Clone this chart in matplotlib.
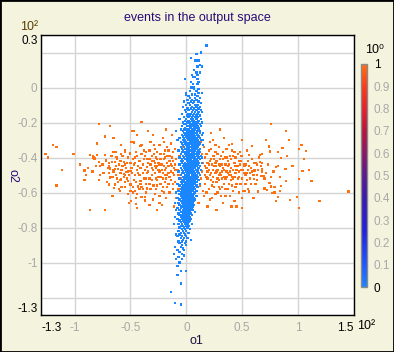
import numpy as np
import matplotlib
matplotlib.use("Agg")
import matplotlib.pyplot as plt
from matplotlib.colors import LinearSegmentedColormap, Normalize
from matplotlib.cm import ScalarMappable
from matplotlib.patches import Rectangle

plt.rcParams["font.family"] = ["Liberation Sans", "DejaVu Sans"]

BG = "#f4f3de"
GREY = "#a8a8a8"
NAVY = "#2a0a7a"

# blue cloud, read row by row: (o2, [o1 values])
blue_rows = [
    (0.24, [0.18]), (0.20, [0.13]), (0.19, [0.09]), (0.17, [0.04]),
    (0.155, [0.08, 0.10, 0.11]), (0.13, [0.12]), (0.12, [0.10, 0.14]),
    (0.10, [0.07]), (0.085, [0.09, 0.12]), (0.07, [0.05, 0.10]),
    (0.06, [0.06, 0.08]), (0.05, [-0.01, 0.10]), (0.03, [0.04, 0.11]),
    (0.02, [0.06, 0.10]), (0.0, [0.04, 0.06, 0.07]), (-0.01, [0.07, 0.11]),
    (-0.02, [0.03, 0.09]), (-0.03, [0.0, 0.11, 0.14]), (-0.04, [0.0, 0.05, 0.08]),
    (-0.05, [0.02, 0.10]), (-0.06, [0.03, 0.08, 0.12]), (-0.07, [0.01, 0.05, 0.09]),
    (-0.08, [-0.02, 0.04, 0.07, 0.11]), (-0.09, [0.02, 0.06, 0.13]),
    (-0.10, [0.0, 0.03, 0.08, 0.10]), (-0.11, [-0.03, 0.05, 0.09, 0.12]),
    (-0.12, [0.01, 0.04, 0.07, 0.11]), (-0.13, [-0.01, 0.02, 0.06, 0.09, 0.13]),
    (-0.14, [0.0, 0.05, 0.08, 0.11, 0.14]), (-0.15, [-0.04, 0.02, 0.04, 0.07, 0.10]),
    (-0.16, [0.01, 0.03, 0.06, 0.09, 0.12]), (-0.17, [-0.02, 0.02, 0.05, 0.08, 0.10]),
    (-0.18, [-0.06, 0.0, 0.04, 0.06, 0.09, 0.13]), (-0.19, [-0.01, 0.02, 0.05, 0.07, 0.11]),
    (-0.20, [-0.03, 0.01, 0.03, 0.06, 0.08, 0.10, 0.14]),
    (-0.21, [-0.02, 0.00, 0.03, 0.05, 0.07, 0.09, 0.12]),
    (-0.22, [-0.04, 0.01, 0.02, 0.04, 0.06, 0.08, 0.10, 0.13]),
    (-0.23, [-0.01, 0.03, 0.04, 0.07, 0.09, 0.11]),
    (-0.24, [-0.05, -0.02, 0.00, 0.02, 0.05, 0.06, 0.08, 0.11]),
    (-0.25, [-0.09, -0.03, 0.01, 0.03, 0.05, 0.07, 0.10, 0.12]),
    (-0.26, [-0.02, 0.00, 0.02, 0.04, 0.06, 0.08, 0.09, 0.12, 0.15]),
    (-0.27, [-0.04, -0.01, 0.01, 0.03, 0.05, 0.07, 0.10, 0.14]),
    (-0.28, [-0.03, 0.00, 0.02, 0.04, 0.06, 0.08, 0.11]),
    (-0.29, [-0.06, -0.02, 0.01, 0.03, 0.05, 0.07, 0.09, 0.12]),
    (-0.30, [-0.08, -0.03, -0.01, 0.02, 0.04, 0.06, 0.08, 0.10, 0.13, 0.15]),
    (-0.31, [-0.05, -0.02, 0.00, 0.03, 0.05, 0.07, 0.09, 0.11]),
    (-0.32, [-0.04, -0.01, 0.01, 0.02, 0.04, 0.06, 0.08, 0.10, 0.12]),
    (-0.33, [-0.03, 0.00, 0.02, 0.05, 0.07, 0.09, 0.11, 0.15]),
    (-0.34, [-0.05, -0.02, 0.01, 0.03, 0.04, 0.06, 0.08, 0.10]),
    (-0.35, [-0.04, -0.01, 0.00, 0.02, 0.05, 0.07, 0.09, 0.12]),
    (-0.36, [-0.07, -0.03, 0.01, 0.03, 0.04, 0.06, 0.08, 0.11]),
    (-0.37, [-0.04, -0.02, 0.00, 0.02, 0.05, 0.07, 0.10, 0.12]),
    (-0.38, [-0.05, -0.01, 0.01, 0.03, 0.04, 0.06, 0.08, 0.09, 0.11]),
    (-0.39, [-0.03, 0.00, 0.02, 0.04, 0.06, 0.07, 0.10, 0.13]),
    (-0.40, [-0.06, -0.02, 0.01, 0.03, 0.05, 0.06, 0.08, 0.11, 0.14]),
    (-0.41, [-0.04, -0.01, 0.00, 0.02, 0.04, 0.07, 0.09, 0.12]),
    (-0.42, [-0.05, -0.03, 0.01, 0.03, 0.05, 0.06, 0.08, 0.10]),
    (-0.43, [-0.04, -0.01, 0.02, 0.03, 0.05, 0.07, 0.09, 0.11, 0.14]),
    (-0.44, [-0.06, -0.02, 0.00, 0.02, 0.04, 0.06, 0.08, 0.10]),
    (-0.45, [-0.03, -0.01, 0.01, 0.03, 0.05, 0.07, 0.09, 0.12]),
    (-0.46, [-0.05, -0.02, 0.00, 0.02, 0.04, 0.06, 0.08, 0.11]),
    (-0.47, [-0.04, -0.01, 0.01, 0.03, 0.05, 0.06, 0.09, 0.10, 0.13]),
    (-0.48, [-0.07, -0.03, 0.00, 0.02, 0.04, 0.05, 0.07, 0.10]),
    (-0.49, [-0.04, -0.02, 0.01, 0.03, 0.04, 0.06, 0.08, 0.11]),
    (-0.50, [-0.05, -0.01, 0.00, 0.02, 0.05, 0.07, 0.09, 0.12]),
    (-0.51, [-0.03, -0.01, 0.01, 0.03, 0.04, 0.06, 0.08, 0.10]),
    (-0.52, [-0.06, -0.02, 0.00, 0.02, 0.03, 0.05, 0.07, 0.09]),
    (-0.53, [-0.04, -0.02, 0.01, 0.02, 0.04, 0.06, 0.08, 0.11]),
    (-0.54, [-0.05, -0.03, -0.01, 0.01, 0.03, 0.05, 0.07, 0.09]),
    (-0.55, [-0.08, -0.04, -0.01, 0.00, 0.02, 0.04, 0.06, 0.08, 0.12]),
    (-0.56, [-0.06, -0.03, -0.01, 0.01, 0.03, 0.05, 0.06, 0.09]),
    (-0.57, [-0.04, -0.02, 0.00, 0.02, 0.04, 0.05, 0.07, 0.10]),
    (-0.58, [-0.05, -0.03, -0.01, 0.01, 0.03, 0.04, 0.06, 0.08]),
    (-0.59, [-0.07, -0.04, -0.02, 0.00, 0.02, 0.04, 0.06, 0.09]),
    (-0.60, [-0.09, -0.05, -0.03, -0.01, 0.01, 0.02, 0.04, 0.07, 0.08]),
    (-0.61, [-0.06, -0.04, -0.02, 0.00, 0.02, 0.03, 0.05, 0.07]),
    (-0.62, [-0.05, -0.03, -0.01, 0.01, 0.03, 0.05, 0.06, 0.09]),
    (-0.63, [-0.08, -0.04, -0.02, 0.00, 0.01, 0.03, 0.05, 0.07]),
    (-0.64, [-0.06, -0.03, -0.01, 0.01, 0.02, 0.04, 0.06, 0.08]),
    (-0.65, [-0.05, -0.03, -0.02, 0.00, 0.02, 0.03, 0.05, 0.07]),
    (-0.66, [-0.10, -0.07, -0.04, -0.02, 0.00, 0.01, 0.03, 0.04, 0.06]),
    (-0.67, [-0.06, -0.03, -0.01, 0.01, 0.03, 0.05, 0.07]),
    (-0.68, [-0.05, -0.04, -0.02, 0.00, 0.02, 0.04, 0.06]),
    (-0.69, [-0.08, -0.05, -0.02, -0.01, 0.01, 0.03, 0.05]),
    (-0.70, [-0.09, -0.06, -0.03, -0.01, 0.00, 0.02, 0.04, 0.06]),
    (-0.71, [-0.05, -0.04, -0.02, 0.00, 0.01, 0.03, 0.08]),
    (-0.72, [-0.07, -0.03, -0.01, 0.01, 0.02, 0.04]),
    (-0.73, [-0.06, -0.04, -0.02, 0.00, 0.02, 0.05]),
    (-0.74, [-0.10, -0.05, -0.03, -0.01, 0.01, 0.03]),
    (-0.75, [-0.08, -0.04, -0.02, 0.00, 0.02, 0.04]),
    (-0.76, [-0.06, -0.03, -0.01, 0.01, 0.03]),
    (-0.77, [-0.05, -0.02, 0.00, 0.02]),
    (-0.78, [-0.11, -0.07, -0.04, -0.01, 0.01, 0.05]),
    (-0.79, [-0.05, -0.03, 0.00, 0.02]),
    (-0.80, [-0.06, -0.02, 0.01]), (-0.81, [-0.04, -0.01, 0.03]),
    (-0.82, [-0.07, -0.03, 0.00]), (-0.83, [-0.05, -0.02, 0.02]),
    (-0.84, [-0.09, -0.06, -0.01]), (-0.85, [-0.08, -0.04, 0.00]),
    (-0.86, [-0.05, -0.02, 0.01]), (-0.87, [-0.03, 0.04]),
    (-0.88, [-0.07, -0.04, 0.00]), (-0.89, [-0.06, -0.01]),
    (-0.90, [-0.04, 0.00]), (-0.91, [-0.10, -0.05]), (-0.92, [-0.03]),
    (-0.93, [-0.08, -0.02]), (-0.94, [-0.06]), (-0.95, [-0.11, -0.04]),
    (-0.96, [-0.02]), (-0.97, [-0.07]), (-0.98, [-0.09, -0.04]),
    (-1.00, [-0.06]), (-1.02, [-0.08]), (-1.05, [-0.05, 0.00]),
    (-1.07, [-0.08]), (-1.12, [-0.05]), (-1.17, [-0.14]),
    (-1.23, [-0.10]), (-1.24, [-0.05]),
]

# orange cloud, (o1, o2) pairs
orange_pts = [
    (-1.26, -0.38), (-1.24, -0.40), (-1.19, -0.33), (-1.16, -0.34), (-1.16, -0.56),
    (-1.11, -0.47), (-1.01, -0.38),
    (-0.91, -0.475), (-0.90, -0.50), (-0.91, -0.53), (-0.88, -0.46), (-0.86, -0.384),
    (-0.86, -0.70), (-0.83, -0.40), (-0.835, -0.395), (-0.82, -0.405), (-0.80, -0.32),
    (-0.80, -0.384), (-0.78, -0.21), (-0.78, -0.424), (-0.77, -0.447), (-0.78, -0.53),
    (-0.74, -0.49), (-0.73, -0.28), (-0.73, -0.384), (-0.72, -0.418), (-0.73, -0.70),
    (-0.68, -0.22), (-0.69, -0.487), (-0.69, -0.555), (-0.647, -0.573), (-0.66, -0.62),
    (-0.65, -0.287), (-0.69, -0.447), (-0.68, -0.515),
    (-0.65, -0.369), (-0.63, -0.369), (-0.584, -0.329), (-0.548, -0.37), (-0.548, -0.36),
    (-0.587, -0.38), (-0.626, -0.397), (-0.667, -0.427), (-0.64, -0.427), (-0.59, -0.42),
    (-0.555, -0.427), (-0.55, -0.44), (-0.506, -0.378), (-0.49, -0.31), (-0.486, -0.247),
    (-0.47, -0.25), (-0.44, -0.27), (-0.40, -0.197), (-0.34, -0.247), (-0.47, -0.315),
    (-0.45, -0.367), (-0.41, -0.335), (-0.40, -0.33), (-0.44, -0.39), (-0.40, -0.38),
    (-0.38, -0.36), (-0.37, -0.39), (-0.36, -0.37), (-0.64, -0.466), (-0.61, -0.466),
    (-0.655, -0.475), (-0.68, -0.462), (-0.63, -0.50), (-0.59, -0.49), (-0.584, -0.523),
    (-0.56, -0.494), (-0.537, -0.483), (-0.52, -0.48), (-0.50, -0.477), (-0.485, -0.49),
    (-0.53, -0.52), (-0.52, -0.534), (-0.55, -0.54), (-0.61, -0.54), (-0.64, -0.555),
    (-0.58, -0.567), (-0.55, -0.567), (-0.50, -0.555), (-0.596, -0.591), (-0.50, -0.59),
    (-0.48, -0.60), (-0.46, -0.59), (-0.44, -0.61), (-0.45, -0.63), (-0.495, -0.65),
    (-0.51, -0.66), (-0.45, -0.667), (-0.44, -0.69), (-0.40, -0.625), (-0.37, -0.624),
    (-0.37, -0.645), (-0.33, -0.67), (-0.35, -0.578), (-0.41, -0.534), (-0.41, -0.55),
    (-0.42, -0.50), (-0.39, -0.49), (-0.37, -0.47), (-0.35, -0.455), (-0.34, -0.48),
    (-0.43, -0.45), (-0.46, -0.43), (-0.48, -0.41), (-0.52, -0.40), (-0.57, -0.45),
    (-0.60, -0.44), (-0.62, -0.52), (-0.66, -0.51), (-0.69, -0.43), (-0.47, -0.53),
    (-0.43, -0.565), (-0.39, -0.58), (-0.36, -0.52), (-0.33, -0.55),
    (-0.62, -0.41), (-0.57, -0.39), (-0.53, -0.43), (-0.49, -0.46), (-0.46, -0.50),
    (-0.44, -0.47), (-0.42, -0.42), (-0.39, -0.44), (-0.38, -0.52), (-0.36, -0.55),
    (-0.40, -0.57), (-0.45, -0.54), (-0.48, -0.57), (-0.52, -0.61), (-0.56, -0.51),
    (-0.60, -0.58), (-0.63, -0.45), (-0.67, -0.39), (-0.71, -0.54), (-0.75, -0.44),
    (-0.84, -0.48), (-0.95, -0.44),
    (-0.58, -0.47), (-0.54, -0.46), (-0.51, -0.50), (-0.47, -0.44), (-0.43, -0.49),
    (-0.41, -0.46), (-0.38, -0.41), (-0.35, -0.49), (-0.33, -0.52), (-0.46, -0.40),
    (-0.50, -0.43), (-0.55, -0.50), (-0.59, -0.53), (-0.65, -0.48), (-0.70, -0.46),
    (-0.77, -0.50), (-0.81, -0.45), (-0.36, -0.60), (-0.42, -0.58),
    (-0.32, -0.31), (-0.30, -0.27), (-0.28, -0.35), (-0.31, -0.39), (-0.29, -0.42),
    (-0.27, -0.40), (-0.26, -0.45), (-0.30, -0.47), (-0.32, -0.44), (-0.28, -0.49),
    (-0.25, -0.51), (-0.31, -0.53), (-0.29, -0.56), (-0.27, -0.58), (-0.24, -0.62),
    (-0.30, -0.64), (-0.26, -0.70), (-0.22, -0.67), (-0.23, -0.55), (-0.21, -0.52),
    (-0.24, -0.48), (-0.22, -0.44), (-0.20, -0.41), (-0.23, -0.38), (-0.24, -0.33),
    (-0.21, -0.29), (-0.18, -0.24), (-0.19, -0.36), (-0.17, -0.39), (-0.18, -0.46),
    (-0.16, -0.49), (-0.19, -0.54), (-0.17, -0.57), (-0.15, -0.60), (-0.14, -0.53),
    (-0.13, -0.45), (-0.15, -0.42), (-0.12, -0.37), (-0.14, -0.32), (-0.11, -0.50),
    (-0.12, -0.58), (-0.10, -0.44), (-0.09, -0.63), (-0.11, -0.68), (-0.13, -0.27),
    (-0.20, -0.60), (-0.26, -0.53), (-0.28, -0.61), (-0.33, -0.41), (-0.25, -0.43),
    (-0.22, -0.47), (-0.19, -0.50), (-0.16, -0.45), (-0.14, -0.48), (-0.29, -0.38),
    (-0.31, -0.50), (-0.27, -0.46), (-0.23, -0.41), (-0.17, -0.34), (-0.21, -0.57),
    (-0.24, -0.66), (-0.18, -0.63), (-0.32, -0.58), (-0.35, -0.41), (-0.20, -0.31),
    (-0.15, -0.39), (-0.12, -0.42), (-0.10, -0.54), (-0.16, -0.55), (-0.26, -0.37),
    (-0.34, -0.43), (-0.31, -0.46), (-0.28, -0.43), (-0.25, -0.47), (-0.23, -0.51),
    (-0.20, -0.45), (-0.17, -0.43), (-0.15, -0.51), (-0.13, -0.40), (-0.11, -0.46),
    (-0.27, -0.52), (-0.30, -0.56), (-0.22, -0.59), (-0.19, -0.40), (-0.33, -0.36),
    (-0.26, -0.41), (-0.18, -0.52), (-0.12, -0.55), (-0.16, -0.36), (-0.29, -0.33),
    (-0.31, -0.42), (-0.28, -0.45), (-0.24, -0.44), (-0.21, -0.49), (-0.19, -0.47),
    (-0.17, -0.50), (-0.14, -0.44), (-0.12, -0.49), (-0.10, -0.47), (-0.26, -0.56),
    (-0.20, -0.38),
    (-0.08, -0.47), (-0.06, -0.39), (-0.05, -0.52), (-0.07, -0.58), (-0.04, -0.34),
    (0.12, -0.45), (0.14, -0.38), (0.13, -0.52), (0.15, -0.59), (0.11, -0.66),
    (-0.08, -0.30), (0.13, -0.31), (-0.09, -0.41), (0.14, -0.48), (0.15, -0.43),
    (0.12, -0.56), (-0.07, -0.50), (0.16, -0.34), (-0.10, -0.35), (0.16, -0.62),
    (0.17, -0.40), (0.18, -0.46), (0.19, -0.52), (0.17, -0.55), (0.20, -0.36),
    (0.21, -0.42), (0.22, -0.49), (0.20, -0.58), (0.23, -0.63), (0.19, -0.68),
    (0.24, -0.30), (0.22, -0.26), (0.25, -0.39), (0.26, -0.45), (0.24, -0.51),
    (0.27, -0.54), (0.25, -0.57), (0.28, -0.60), (0.29, -0.34), (0.30, -0.41),
    (0.28, -0.47), (0.31, -0.50), (0.29, -0.53), (0.32, -0.44), (0.33, -0.37),
    (0.34, -0.29), (0.32, -0.57), (0.35, -0.62), (0.33, -0.66), (0.36, -0.48),
    (0.37, -0.42), (0.35, -0.52), (0.38, -0.55), (0.39, -0.39), (0.40, -0.46),
    (0.41, -0.51), (0.38, -0.33), (0.42, -0.59), (0.43, -0.43), (0.41, -0.36),
    (0.44, -0.49), (0.405, -0.68), (0.43, -0.647), (0.45, -0.68), (0.41, -0.323),
    (0.27, -0.70), (0.21, -0.31), (0.18, -0.60), (0.23, -0.44), (0.26, -0.49),
    (0.30, -0.45), (0.34, -0.51), (0.37, -0.58), (0.40, -0.53), (0.44, -0.40),
    (0.30, -0.24), (0.36, -0.35), (0.22, -0.53), (0.28, -0.38), (0.32, -0.48),
    (0.19, -0.43), (0.24, -0.47), (0.31, -0.62), (0.39, -0.62), (0.42, -0.47),
    (0.45, -0.55), (0.26, -0.33), (0.17, -0.50), (0.35, -0.44), (0.29, -0.57),
    (0.21, -0.64), (0.38, -0.50), (0.44, -0.57), (0.36, -0.40), (0.25, -0.41),
    (0.18, -0.38), (0.20, -0.44), (0.21, -0.50), (0.23, -0.56), (0.25, -0.45),
    (0.27, -0.42), (0.28, -0.52), (0.30, -0.49), (0.31, -0.39), (0.33, -0.46),
    (0.34, -0.55), (0.36, -0.51), (0.37, -0.45), (0.39, -0.48), (0.40, -0.41),
    (0.42, -0.52), (0.43, -0.37), (0.44, -0.45), (0.19, -0.48), (0.24, -0.39),
    (0.26, -0.61), (0.29, -0.44), (0.33, -0.41), (0.35, -0.58), (0.17, -0.45),
    (0.22, -0.35), (0.18, -0.51), (0.20, -0.47), (0.22, -0.41), (0.24, -0.54),
    (0.26, -0.43), (0.27, -0.48), (0.29, -0.50), (0.31, -0.44), (0.32, -0.52),
    (0.34, -0.47), (0.35, -0.40), (0.37, -0.49), (0.38, -0.44), (0.40, -0.50),
    (0.41, -0.56), (0.43, -0.51), (0.45, -0.47), (0.26, -0.37), (0.30, -0.58),
    (0.42, -0.39),
    (0.50, -0.30), (0.48, -0.367), (0.50, -0.39), (0.52, -0.437), (0.53, -0.44),
    (0.57, -0.49), (0.53, -0.50), (0.52, -0.49), (0.54, -0.529), (0.49, -0.55),
    (0.48, -0.553), (0.51, -0.59), (0.52, -0.592), (0.50, -0.63), (0.50, -0.689),
    (0.56, -0.595), (0.56, -0.384), (0.585, -0.333), (0.61, -0.475), (0.605, -0.523),
    (0.64, -0.595), (0.62, -0.43), (0.635, -0.44), (0.66, -0.426), (0.68, -0.43),
    (0.675, -0.466), (0.68, -0.48), (0.69, -0.506), (0.67, -0.506), (0.70, -0.578),
    (0.72, -0.586), (0.68, -0.38), (0.66, -0.385), (0.71, -0.30), (0.46, -0.45),
    (0.47, -0.51), (0.49, -0.42), (0.55, -0.47), (0.58, -0.55), (0.59, -0.41),
    (0.47, -0.60), (0.46, -0.38), (0.54, -0.36), (0.60, -0.63), (0.63, -0.50),
    (0.47, -0.48), (0.46, -0.52), (0.48, -0.44), (0.51, -0.47), (0.53, -0.55),
    (0.55, -0.42), (0.57, -0.52), (0.58, -0.46), (0.60, -0.50), (0.62, -0.55),
    (0.64, -0.47), (0.65, -0.40), (0.50, -0.52), (0.55, -0.58), (0.49, -0.39),
    (0.47, -0.42), (0.49, -0.47), (0.52, -0.45), (0.54, -0.49), (0.56, -0.45),
    (0.59, -0.48), (0.61, -0.43), (0.63, -0.53), (0.67, -0.45), (0.70, -0.52),
    (0.71, -0.49), (0.73, -0.44), (0.78, -0.48), (0.84, -0.51), (0.95, -0.45),
    (0.74, -0.338), (0.75, -0.365), (0.76, -0.21), (0.76, -0.513), (0.745, -0.544),
    (0.76, -0.565), (0.77, -0.603), (0.79, -0.57), (0.79, -0.60), (0.80, -0.454),
    (0.82, -0.449), (0.82, -0.367), (0.845, -0.403), (0.86, -0.346), (0.845, -0.561),
    (0.835, -0.59), (0.82, -0.624), (0.80, -0.647), (0.88, -0.466), (0.89, -0.466),
    (0.89, -0.534), (0.90, -0.39), (0.89, -0.25), (0.92, -0.30), (0.93, -0.643),
    (0.99, -0.624),
    (1.005, -0.523), (1.01, -0.35), (1.03, -0.33), (1.07, -0.363), (1.05, -0.41),
    (1.04, -0.477), (1.10, -0.47), (1.12, -0.534), (1.01, -0.689), (1.19, -0.647),
    (1.45, -0.595),
]

x_ticks = [-1.3, -1, -0.5, 0, 0.5, 1, 1.5]
x_labels = ["-1.3", "-1", "-0.5", "0", "0.5", "1", "1.5"]
y_ticks = [0.3, 0, -0.2, -0.4, -0.6, -0.8, -1, -1.3]
y_labels = ["0.3", "0", "-0.2", "-0.4", "-0.6", "-0.8", "-1", "-1.3"]
y_extra_grid = [0.2, -1.2]
cbar_ticks = [0, 0.1, 0.2, 0.3, 0.4, 0.5, 0.6, 0.7, 0.8, 0.9, 1]
cbar_labels = ["0", "0.1", "0.2", "0.3", "0.4", "0.5", "0.6", "0.7", "0.8", "0.9", "1"]

cmap = LinearSegmentedColormap.from_list("events", [
    (0.0, "#1a86ff"), (0.1, "#1f58ff"), (0.25, "#2222dd"), (0.4, "#3a1ab0"),
    (0.5, "#5a1a90"), (0.6, "#8a1866"), (0.7, "#b8163e"), (0.8, "#e8202a"),
    (0.9, "#ff3a18"), (1.0, "#ff7010")])
norm = Normalize(0, 1)

bx = [x for y, xs in blue_rows for x in xs]
by = [y for y, xs in blue_rows for _ in xs]
ox = [p[0] for p in orange_pts]
oy = [p[1] for p in orange_pts]

W, H = 394, 352
fig = plt.figure(figsize=(W / 100, H / 100), dpi=100, facecolor=BG)
ax = fig.add_axes([41 / W, 1 - 315 / H, 313 / W, 280 / H])
ax.set_facecolor("white")

ax.scatter(ox, oy, c=[1.0] * len(ox), cmap=cmap, norm=norm, marker="s", s=2.8,
           linewidths=0, zorder=3)
ax.scatter(bx, by, c=[0.0] * len(bx), cmap=cmap, norm=norm, marker="s", s=2.8,
           linewidths=0, zorder=4)

ax.set_xlim(-1.3, 1.5)
ax.set_ylim(-1.3, 0.3)
ax.set_xticks(x_ticks)
ax.set_xticklabels(x_labels)
ax.set_yticks(y_ticks)
ax.set_yticklabels(y_labels)
ax.set_yticks(y_extra_grid, minor=True)
ax.grid(True, which="both", color="#d4d4d4", linewidth=1, zorder=0)
ax.set_axisbelow(True)
ax.tick_params(axis="both", which="both", length=0, labelsize=8.5, colors=GREY)
ax.tick_params(axis="x", pad=5)
ax.tick_params(axis="y", pad=2.5)
xl = ax.get_xticklabels()
xl[0].set_color("black"); xl[0].set_ha("left")
xl[-1].set_color("black"); xl[-1].set_ha("right")
yl = ax.get_yticklabels()
yl[0].set_color("black"); yl[0].set_va("top")
yl[-1].set_color("black"); yl[-1].set_va("bottom")
for sp in ax.spines.values():
    sp.set_color("black")
    sp.set_linewidth(1)

# colorbar
cax = fig.add_axes([361 / W, 1 - 287 / H, 6 / W, 223 / H])
cb = fig.colorbar(ScalarMappable(norm=norm, cmap=cmap), cax=cax)
cb.outline.set_edgecolor("#8a8a8a")
cb.outline.set_linewidth(1)
cb.set_ticks(cbar_ticks)
cb.set_ticklabels(cbar_labels)
cax.tick_params(length=0, labelsize=8.5, colors=GREY, pad=5)
cl = cax.get_yticklabels()
cl[0].set_color("black")
cl[-1].set_color("black")

fig.text(0.5, 1 - 18 / H, "events in the output space", ha="center", va="center",
         fontsize=9, color=NAVY)
fig.text(196 / W, 1 - 341 / H, "o1", ha="center", va="center", fontsize=9, color="#1a1040")
fig.text(12 / W, 1 - 176 / H, "o2", ha="center", va="center", rotation=270,
         fontsize=9, color=NAVY)
fig.text(20 / W, 1 - 27 / H, "10²", ha="left", va="center", fontsize=9, color="#5a4000")
fig.text(357 / W, 1 - 326 / H, "10²", ha="left", va="center", fontsize=9, color="black")
fig.text(365 / W, 1 - 50 / H, "10⁰", ha="left", va="center", fontsize=9, color="black")

fig.patches.append(Rectangle((0, 0), 1, 1, transform=fig.transFigure, fill=False,
                             edgecolor="black", linewidth=2))

fig.savefig("out.png", dpi=100, facecolor=BG)
